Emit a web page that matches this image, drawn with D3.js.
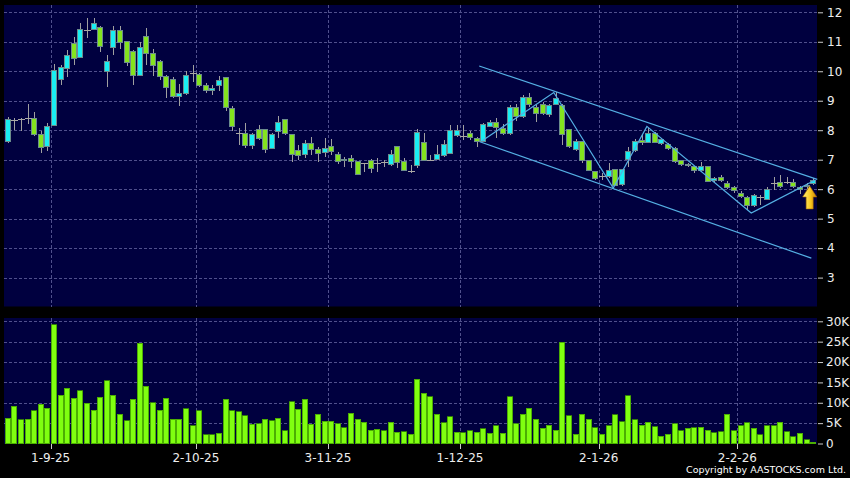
<!DOCTYPE html>
<html><head><meta charset="utf-8">
<script src="https://cdn.jsdelivr.net/npm/d3@7"></script>
<style>body{margin:0;background:#000}svg{display:block}</style>
</head><body><svg id="c" width="850" height="478"></svg>
<script>
// ---------- data ----------
const dates = ("21-8-25 22-8-25 25-8-25 26-8-25 27-8-25 28-8-25 29-8-25 " +
 "1-9-25 2-9-25 3-9-25 4-9-25 5-9-25 8-9-25 9-9-25 10-9-25 11-9-25 12-9-25 15-9-25 16-9-25 17-9-25 18-9-25 19-9-25 22-9-25 23-9-25 24-9-25 25-9-25 26-9-25 29-9-25 30-9-25 " +
 "2-10-25 3-10-25 6-10-25 8-10-25 9-10-25 10-10-25 13-10-25 14-10-25 15-10-25 16-10-25 17-10-25 20-10-25 21-10-25 22-10-25 23-10-25 24-10-25 27-10-25 28-10-25 30-10-25 31-10-25 " +
 "3-11-25 4-11-25 5-11-25 6-11-25 7-11-25 10-11-25 11-11-25 12-11-25 13-11-25 14-11-25 17-11-25 18-11-25 19-11-25 20-11-25 21-11-25 24-11-25 25-11-25 26-11-25 27-11-25 28-11-25 " +
 "1-12-25 2-12-25 3-12-25 4-12-25 5-12-25 8-12-25 9-12-25 10-12-25 11-12-25 12-12-25 15-12-25 16-12-25 17-12-25 18-12-25 19-12-25 22-12-25 23-12-25 24-12-25 29-12-25 30-12-25 31-12-25 " +
 "2-1-26 5-1-26 6-1-26 7-1-26 8-1-26 9-1-26 12-1-26 13-1-26 14-1-26 15-1-26 16-1-26 19-1-26 20-1-26 21-1-26 22-1-26 23-1-26 26-1-26 27-1-26 28-1-26 29-1-26 30-1-26 " +
 "2-2-26 3-2-26 4-2-26 5-2-26 6-2-26 9-2-26 10-2-26 11-2-26 12-2-26 13-2-26 16-2-26 20-2-26").split(" ");

const open = [7.61,8.33,8.37,8.40,8.40,7.86,7.44,8.15,9.73,10.10, 10.95,10.47,11.40,11.42,11.49,9.99,10.81,11.38,11.00,10.66, 9.85,11.17,10.61,10.32,9.82,9.72,9.14,9.25,9.93,9.90, 9.51,9.34,9.50,9.80,8.72,7.91,7.90,7.47,8.01,8.01, 7.39,7.95,8.35,7.86,7.30,7.16,7.56,7.36,7.25,7.46, 7.18,6.98,7.05,6.93,6.90,6.96,6.90,6.91,6.84,7.44, 6.93,6.63,6.79,7.59,7.00,7.02,7.14,7.22,7.81,7.81, 7.90,7.73,7.63,8.14,8.27,8.07,7.90,8.76,8.46,9.10, 8.76,8.86,8.52,8.88,8.83,8.01,7.36,7.61,6.96,6.59, 6.45,6.42,6.67,6.16,6.99,7.30,7.66,7.59,7.90,7.56, 7.50,7.39,6.96,6.84,6.76,6.65,6.76,6.29,6.40,6.20, 6.05,5.86,5.72,5.44,5.75,5.66,6.22,6.22,6.25,6.22, 6.06,6.14,6.18];
const high = [8.44,8.42,8.40,8.88,8.63,7.98,8.23,10.25,10.21,10.72, 11.15,11.63,11.80,11.80,11.54,10.55,11.54,11.54,11.00,10.72, 10.98,11.46,10.75,10.38,9.87,9.82,9.57,10.00,10.20,9.95, 9.59,9.53,9.84,9.82,8.82,8.08,8.26,7.90,8.18,8.01, 7.92,8.48,8.36,7.86,7.50,7.67,7.78,7.44,7.73,7.69, 7.27,7.10,7.16,6.95,6.90,7.01,7.05,6.99,7.33,7.46, 7.05,6.82,8.03,7.90,7.15,7.50,7.67,8.18,8.18,8.18, 7.98,7.78,8.26,8.35,8.40,8.20,8.86,8.90,9.19,9.25, 8.86,8.95,8.90,9.30,8.88,8.05,7.70,7.63,7.00,6.62, 6.55,6.88,6.70,6.70,7.44,7.70,7.85,8.06,7.95,7.72, 7.55,7.42,7.00,6.90,6.80,6.93,6.78,6.42,6.47,6.28, 6.10,5.95,5.78,5.82,5.80,6.08,6.42,6.48,6.42,6.35, 6.12,6.20,6.38];
const low = [7.58,8.00,7.98,8.22,7.80,7.24,7.28,8.15,9.53,9.82, 10.21,10.47,11.12,11.42,10.66,9.48,10.55,10.75,10.19,9.53, 9.85,10.21,9.85,9.70,9.10,9.08,8.83,9.20,9.65,9.45, 9.25,9.19,9.34,8.66,7.98,7.51,7.39,7.36,7.67,7.24, 7.36,7.73,7.85,6.93,6.99,7.05,7.16,6.93,7.10,7.16, 6.85,6.76,6.71,6.50,6.59,6.56,6.59,6.76,6.79,6.71, 6.63,6.54,6.71,6.95,7.00,7.00,7.10,7.20,7.78,7.67, 7.66,7.44,7.60,8.10,7.73,7.85,7.85,8.30,8.40,8.80, 8.29,8.50,8.45,8.85,7.50,7.40,7.30,6.90,6.60,6.30, 6.30,6.38,6.10,6.10,6.76,7.25,7.50,7.56,7.55,7.50, 7.33,6.90,6.80,6.75,6.55,6.59,6.25,6.22,6.25,6.00, 5.88,5.70,5.30,5.40,5.46,5.62,5.97,6.05,6.18,6.05, 5.85,6.00,6.15];
const close = [8.35,8.33,8.37,8.40,7.86,7.42,8.14,10.01,10.13,10.54, 10.44,11.42,11.40,11.63,10.83,10.32,11.38,10.98,10.30,9.87, 10.80,10.61,10.19,9.82,9.46,9.14,9.25,9.84,9.93,9.51, 9.36,9.42,9.67,8.76,8.12,7.91,7.47,7.84,7.73,7.33, 7.86,8.27,7.90,7.18,7.14,7.56,7.36,7.22,7.39,7.27, 6.93,7.02,6.93,6.50,6.90,6.71,6.90,6.91,7.16,6.90, 6.63,6.63,7.93,6.98,7.00,7.16,7.53,7.98,7.98,7.81, 7.75,7.61,8.18,8.27,8.09,7.90,8.76,8.46,9.10,8.86, 8.57,8.57,8.83,9.06,7.84,7.44,7.61,6.96,6.65,6.35, 6.45,6.65,6.14,6.67,7.27,7.63,7.57,7.90,7.59,7.67, 7.39,6.95,6.84,6.79,6.62,6.76,6.27,6.37,6.28,6.06, 5.94,5.75,5.44,5.77,5.75,6.00,6.22,6.08,6.25,6.08, 6.00,6.08,6.31];
const volumeK = [6.2,9.2,5.8,6.0,8.0,9.6,8.6,29.1,11.8,13.6, 11.1,12.9,9.9,8.2,11.4,15.4,11.9,7.2,5.6,10.9, 24.6,14.0,10.0,8.2,11.1,5.9,6.0,8.5,4.4,8.0, 2.1,2.1,2.5,10.9,8.1,7.8,6.8,4.7,4.8,6.0, 5.6,6.2,3.1,10.3,8.4,10.9,4.7,7.2,5.5,5.5, 4.8,3.9,7.4,6.0,5.2,3.3,3.5,3.1,5.2,2.8, 2.9,2.3,15.8,12.3,11.5,7.2,5.1,6.6,2.8,2.7, 3.1,2.8,3.6,2.5,4.3,2.5,11.5,4.8,7.2,8.6, 6.0,3.7,4.5,3.3,24.8,6.8,2.3,7.2,6.0,3.9, 2.3,4.4,7.0,5.4,11.7,5.8,4.5,5.2,4.1,1.8, 2.3,4.8,3.1,3.7,3.9,4.0,3.3,2.7,2.9,7.2, 3.1,4.3,5.1,3.7,2.1,4.4,4.4,5.2,2.9,1.7, 2.5,0.9,0.3];

const tickDates = ["1-9-25","2-10-25","3-11-25","1-12-25","2-1-26","2-2-26"];
const priceTicks = [3,4,5,6,7,8,9,10,11,12];
const volTicks = [0,5,10,15,20,25,30];

// user-drawn lines: [bar index, price]
const zigzag = [[71.8,7.63],[82.7,9.28],[91.7,6.04],[96.8,8.13],[112.6,5.19],[122.3,6.31]];
const upperLine = [[71.4,10.18],[122.6,6.33]];
const lowerLine = [[71.5,7.61],[121.7,3.66]];
const arrowMark = {idx:121.45, top:6.11, bottom:5.33};

// ---------- layout ----------
const W=850, H=478;
const plotL=4, plotR=817;
const pTop=5, pBot=306.5, vTop=318, vBot=444;
const bg="#00003f", gridCol="#50508c";
const upCol="#19eef2", downCol="#84e41e", outlineCol="#6c8c8c", wickCol="#a0a0a0", dojiCol="#aaa8a4";
const txtCol="#eeeeee";
const font="DejaVu Sans, Verdana, sans-serif";

const svg=d3.select("#c");
svg.append("rect").attr("width",W).attr("height",H).attr("fill","#000");

const x=d3.scaleBand().domain(dates).range([4.4,816.6]).padding(0);
const xi = f => x.range()[0] + x.step()*(f+0.5);
const xc = d => x(d) + x.bandwidth()/2;
const y=d3.scaleLinear().domain([3,12]).range([277.6,12.3]);
const yv=d3.scaleLinear().domain([0,30]).range([443.5,321.3]);

// panels
svg.append("rect").attr("x",plotL).attr("y",pTop).attr("width",plotR-plotL).attr("height",pBot-pTop).attr("fill",bg);
svg.append("rect").attr("x",plotL).attr("y",vTop).attr("width",plotR-plotL).attr("height",vBot-vTop).attr("fill",bg);

// grid
const grid=svg.append("g").attr("stroke",gridCol).attr("stroke-width",1).attr("stroke-dasharray","3,2").attr("shape-rendering","crispEdges");
grid.selectAll(".hp").data(priceTicks).join("line")
  .attr("x1",plotL).attr("x2",plotR).attr("y1",d=>Math.round(y(d))+0.5).attr("y2",d=>Math.round(y(d))+0.5);
grid.selectAll(".hv").data(volTicks.filter(d=>d>0)).join("line").attr("class","hv")
  .attr("x1",plotL).attr("x2",plotR).attr("y1",d=>Math.round(yv(d))+0.5).attr("y2",d=>Math.round(yv(d))+0.5);
grid.selectAll(".vp").data(tickDates).join("line").attr("class","vp")
  .attr("x1",d=>Math.round(x(d))+0.5).attr("x2",d=>Math.round(x(d))+0.5).attr("y1",pTop).attr("y2",pBot);
grid.selectAll(".vv").data(tickDates).join("line").attr("class","vv")
  .attr("x1",d=>Math.round(x(d))+0.5).attr("x2",d=>Math.round(x(d))+0.5).attr("y1",vTop).attr("y2",vBot);

// candles
const bars = dates.map((d,i)=>({d,o:open[i],h:high[i],l:low[i],c:close[i],v:volumeK[i]}));
const cg=svg.append("g").attr("shape-rendering","crispEdges");
const bw=5;
cg.selectAll(".wick").data(bars).join("line").attr("class","wick")
  .attr("x1",b=>Math.round(xc(b.d))+0.5).attr("x2",b=>Math.round(xc(b.d))+0.5)
  .attr("y1",b=>y(b.h)).attr("y2",b=>y(b.l)).attr("stroke",wickCol).attr("stroke-width",1);
cg.selectAll(".body").data(bars.filter(b=>b.o!==b.c)).join("rect").attr("class","body")
  .attr("x",b=>Math.round(xc(b.d))-2.5).attr("width",bw)
  .attr("y",b=>y(Math.max(b.o,b.c))).attr("height",b=>Math.max(1,Math.abs(y(b.o)-y(b.c))))
  .attr("fill",b=>b.c>b.o?upCol:downCol).attr("stroke",outlineCol).attr("stroke-width",1);
cg.selectAll(".doji").data(bars.filter(b=>b.o===b.c)).join("line").attr("class","doji")
  .attr("x1",b=>Math.round(xc(b.d))-3).attr("x2",b=>Math.round(xc(b.d))+4)
  .attr("y1",b=>Math.round(y(b.c))+0.5).attr("y2",b=>Math.round(y(b.c))+0.5)
  .attr("stroke",dojiCol).attr("stroke-width",1.2);

// volume
svg.append("g").attr("shape-rendering","crispEdges").selectAll("rect").data(bars).join("rect")
  .attr("x",b=>Math.round(xc(b.d))-2.75).attr("width",5.5)
  .attr("y",b=>yv(b.v)).attr("height",b=>yv(0)-yv(b.v))
  .attr("fill","#80ff10").attr("stroke","#3f9a00").attr("stroke-width",0.8);

// user lines
const lineGen=d3.line().x(p=>xi(p[0])).y(p=>y(p[1]));
const lg=svg.append("g").attr("fill","none").attr("stroke","#55b0e4").attr("stroke-width",1.2);
[zigzag,upperLine,lowerLine].forEach(l=>lg.append("path").attr("d",lineGen(l)));

// arrow
const defs=svg.append("defs");
const gr=defs.append("linearGradient").attr("id","ag").attr("x1","0").attr("x2","1").attr("y1","0").attr("y2","0");
gr.append("stop").attr("offset","0").attr("stop-color","#fff27a");
gr.append("stop").attr("offset","0.55").attr("stop-color","#f8c820");
gr.append("stop").attr("offset","1").attr("stop-color","#c88000");
{
  const cx=xi(arrowMark.idx), t=y(arrowMark.top), b=y(arrowMark.bottom);
  const hh=11, hw=7, sw=3.5;
  svg.append("path").attr("d",`M${cx},${t}L${cx+hw},${t+hh}L${cx+sw},${t+hh}L${cx+sw},${b}L${cx-sw},${b}L${cx-sw},${t+hh}L${cx-hw},${t+hh}Z`)
    .attr("fill","url(#ag)").attr("stroke","#b07000").attr("stroke-width",0.6);
}

// right axes
const pa=svg.append("g").attr("transform",`translate(${plotR+1},0)`)
  .call(d3.axisRight(y).tickValues(priceTicks).tickSize(5).tickPadding(4).tickFormat(d3.format("d")));
const va=svg.append("g").attr("transform",`translate(${plotR+1},0)`)
  .call(d3.axisRight(yv).tickValues(volTicks).tickSize(5).tickPadding(3).tickFormat(d=>d===0?"0":d+"K"));
[pa,va].forEach(a=>{
  a.select(".domain").remove();
  a.selectAll("line").attr("stroke","#cccccc");
  a.selectAll("text").attr("fill",txtCol).attr("font-family",font).attr("font-size",12);
});

// bottom date ticks
const xa=svg.append("g");
xa.selectAll("line").data(tickDates).join("line")
  .attr("x1",d=>Math.round(x(d))+0.5).attr("x2",d=>Math.round(x(d))+0.5).attr("y1",vBot).attr("y2",vBot+5)
  .attr("stroke","#cccccc");
xa.selectAll("text").data(tickDates).join("text")
  .attr("x",d=>x(d)).attr("y",462).attr("text-anchor","middle")
  .attr("fill",txtCol).attr("font-family",font).attr("font-size",12).text(d=>d);

svg.append("text").attr("x",846).attr("y",473).attr("text-anchor","end")
  .attr("fill","#ffffff").attr("font-family",font).attr("font-size",9.5)
  .text("Copyright by AASTOCKS.com Ltd.");
</script></body></html>
